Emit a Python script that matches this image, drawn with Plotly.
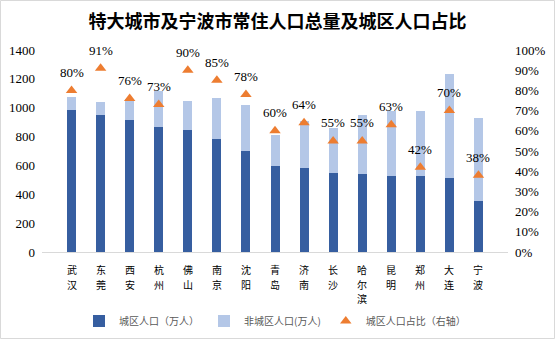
import plotly.graph_objects as go

cities = ["武汉", "东莞", "西安", "杭州", "佛山", "南京", "沈阳", "青岛", "济南", "长沙", "哈尔滨", "昆明", "郑州", "大连", "宁波"]
urban = [983, 949, 914, 865, 847, 782, 699, 597, 583, 548, 539, 525, 525, 514, 354]
non_urban = [93, 92, 146, 252, 199, 287, 319, 213, 326, 313, 410, 451, 451, 719, 574]
urban_pct = [80, 91, 76, 73, 90, 85, 78, 60, 64, 55, 55, 63, 42, 70, 38]

pct = [p / 100 for p in urban_pct]

W, H = 555, 340
ml, mr, mt, mb = 42, 47, 50, 88
pw, ph = W - ml - mr, H - mt - mb

fig = go.Figure()
fig.add_trace(go.Bar(x=cities, y=urban, name="城区人口（万人）", marker_color="#365EA0", marker_line_width=0))
fig.add_trace(go.Bar(x=cities, y=non_urban, name="非城区人口(万人)", marker_color="#B4C7E7", marker_line_width=0))
fig.add_trace(go.Scatter(x=cities, y=pct, name="城区人口占比（右轴）", mode="markers", yaxis="y2",
                         marker=dict(symbol="triangle-up", size=10, color="#ED7D31")))

annotations = []
for c, p, lab in zip(cities, pct, urban_pct):
    annotations.append(dict(x=c, y=p, yref="y2", xref="x", text=f"{lab}%", showarrow=False, yshift=18,
                            font=dict(family="Liberation Serif", size=13, color="#000000")))

# vertical (stacked) category labels, one character per line
char_font = 10
pitch = 14.6
for c in cities:
    for i, ch in enumerate(c):
        annotations.append(dict(x=c, y=0, xref="x", yref="paper", text=ch, showarrow=False,
                                yanchor="top", yshift=-(8 + i * pitch),
                                font=dict(family="Noto Sans CJK SC", size=char_font, color="#000000")))

serif = "Liberation Serif"
fig.update_layout(
    width=W, height=H,
    margin=dict(l=ml, r=mr, t=mt, b=mb, autoexpand=False),
    paper_bgcolor="white", plot_bgcolor="white",
    barmode="stack", bargap=0.69,
    title=dict(text="<b>特大城市及宁波市常住人口总量及城区人口占比</b>", x=0.5, xanchor="center",
               y=1 - 22 / H, yanchor="middle",
               font=dict(family="Noto Sans CJK SC", size=18, color="#000000")),
    xaxis=dict(showticklabels=False, showline=True, linecolor="#D9D9D9", linewidth=1,
               ticks="", showgrid=False),
    yaxis=dict(range=[0, 1400], dtick=200, showgrid=False, zeroline=False, ticks="",
               tickfont=dict(family=serif, size=13, color="#000000"), ticklabelstandoff=6),
    yaxis2=dict(range=[0, 1], dtick=0.1, tickformat=".0%", overlaying="y", side="right",
                showgrid=False, zeroline=False, ticks="",
                tickfont=dict(family=serif, size=13, color="#000000"), ticklabelstandoff=6),
    legend=dict(orientation="h", x=0.5, xanchor="center", y=-(321 - 252) / ph, yanchor="middle",
                traceorder="normal",
                font=dict(family="Noto Sans CJK SC", size=10, color="#595959"),
                itemwidth=30, tracegroupgap=0),
    annotations=annotations,
    showlegend=True,
)

fig.add_shape(type="rect", xref="paper", yref="paper",
              x0=-(ml - 0.5) / pw, x1=1 + (mr - 0.5) / pw,
              y0=-(mb - 1.5) / ph, y1=1 + (mt - 0.5) / ph,
              line=dict(color="#D9D9D9", width=1), layer="below")

fig.write_html("out.html")
